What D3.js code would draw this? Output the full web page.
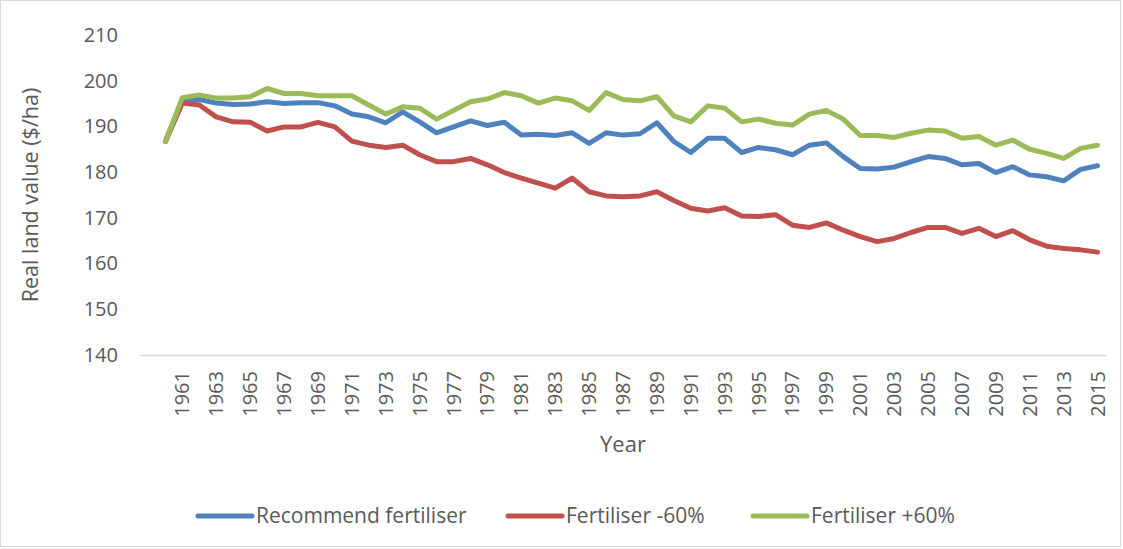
<!DOCTYPE html>
<html>
<head>
<meta charset="utf-8">
<script src="https://cdn.jsdelivr.net/npm/d3@7"></script>
<style>
  body { margin: 0; background: #fff; }
  text { font-family: "Open Sans", "Noto Sans", sans-serif; fill: #595959; }
</style>
</head>
<body>
<script>
var w = 1123;
var h = 549;

// years with data (the first category on the axis is left blank)
var years = d3.range(1960, 2016);
var yTicks = [140, 150, 160, 170, 180, 190, 200, 210];

var recommended = [186.7, 195.8, 195.9, 195.1, 194.8, 194.9, 195.4, 195.0, 195.2, 195.2,
                   194.5, 192.7, 192.1, 190.8, 193.2, 191.0, 188.6, 189.9, 191.2, 190.2,
                   190.9, 188.1, 188.3, 188.0, 188.6, 186.3, 188.6, 188.1, 188.4, 190.8,
                   186.7, 184.3, 187.4, 187.4, 184.3, 185.4, 184.9, 183.8, 185.9, 186.4,
                   183.4, 180.8, 180.7, 181.1, 182.3, 183.4, 183.0, 181.6, 181.9, 179.9,
                   181.2, 179.4, 179.0, 178.1, 180.6, 181.4];
var minus60 = [186.7, 195.1, 194.7, 192.1, 191.0, 190.9, 189.0, 189.9, 189.9, 190.9,
               189.9, 186.8, 185.9, 185.4, 185.9, 183.8, 182.3, 182.3, 183.0, 181.6,
               179.9, 178.7, 177.6, 176.5, 178.7, 175.7, 174.8, 174.6, 174.8, 175.7,
               173.8, 172.1, 171.5, 172.2, 170.4, 170.3, 170.7, 168.4, 167.9, 168.9,
               167.3, 165.9, 164.8, 165.5, 166.8, 167.9, 167.9, 166.6, 167.7, 165.9,
               167.2, 165.2, 163.8, 163.3, 163.0, 162.5];
var plus60 = [186.7, 196.3, 196.9, 196.2, 196.2, 196.5, 198.3, 197.2, 197.2, 196.7,
              196.7, 196.7, 194.7, 192.7, 194.3, 194.0, 191.6, 193.5, 195.4, 196.0,
              197.4, 196.7, 195.1, 196.2, 195.6, 193.5, 197.4, 195.9, 195.6, 196.5,
              192.3, 191.0, 194.5, 194.0, 191.0, 191.6, 190.7, 190.3, 192.7, 193.5,
              191.6, 188.0, 188.0, 187.6, 188.5, 189.2, 189.0, 187.4, 187.8, 185.9,
              187.0, 185.0, 184.1, 183.0, 185.2, 185.9];

var seriesNames = ["Recommend fertiliser", "Fertiliser -60%", "Fertiliser +60%"];
var seriesColors = ["#4f81bd", "#c0504d", "#9bbb59"];
var seriesValues = [recommended, minus60, plus60];

var margin = {top: 35, left: 140, right: 17, bottom: 194};

var svg = d3.select("body")
            .append("svg")
            .attr("width", w)
            .attr("height", h);

// chart area border
svg.append("rect")
    .attr("x", 0.5).attr("y", 0.5)
    .attr("width", w - 3).attr("height", h - 3)
    .attr("fill", "none")
    .attr("stroke", "#d9d9d9");

var x = d3.scaleBand()
    .domain([""].concat(years.map(String)))
    .range([margin.left, w - margin.right]);

var y = d3.scaleLinear()
    .domain([140, 210])
    .range([h - margin.bottom, margin.top]);

function cx(year) { return x(String(year)) + x.bandwidth() / 2; }

// y axis labels
var yAxis = svg.append("g")
    .attr("transform", "translate(" + (margin.left - 22) + ",0)")
    .call(d3.axisLeft(y).tickValues(yTicks).tickSize(0).tickPadding(0));
yAxis.select(".domain").remove();
yAxis.selectAll("text")
    .attr("font-size", "20px")
    .style("font-family", "'Open Sans', sans-serif")
    .attr("fill", "#595959");

// x axis
var xAxis = svg.append("g")
    .attr("transform", "translate(0," + y(140) + ")")
    .call(d3.axisBottom(x)
        .tickValues(years.filter(function(d) { return d % 2 === 1; }).map(String))
        .tickSize(0));
xAxis.select(".domain")
    .attr("stroke", "#d9d9d9")
    .attr("stroke-width", 1.5);
xAxis.selectAll("text")
    .attr("font-size", "20px")
    .style("font-family", "'Open Sans', sans-serif")
    .attr("fill", "#595959")
    .attr("transform", "rotate(-90)")
    .attr("text-anchor", "end")
    .attr("x", -16)
    .attr("y", 0)
    .attr("dy", "0.35em");

// axis titles
svg.append("text")
    .attr("transform", "translate(38," + ((y(140) + y(210)) / 2) + ") rotate(-90)")
    .attr("text-anchor", "middle")
    .attr("font-size", "21.5px")
    .text("Real land value ($/ha)");

svg.append("text")
    .attr("x", (margin.left + w - margin.right) / 2)
    .attr("y", 452)
    .attr("text-anchor", "middle")
    .attr("font-size", "22px")
    .text("Year");

// lines
var line = d3.line()
    .x(function(d, i) { return cx(years[i]); })
    .y(function(d) { return y(d); });

svg.selectAll("path.series")
    .data(seriesValues)
    .enter().append("path")
        .attr("class", "series")
        .attr("d", line)
        .attr("fill", "none")
        .attr("stroke", function(d, i) { return seriesColors[i]; })
        .attr("stroke-width", 5)
        .attr("stroke-linejoin", "round")
        .attr("stroke-linecap", "round");

// legend
var legendX = [198, 508, 753];
var legend = svg.selectAll("g.legend")
    .data(seriesNames)
    .enter().append("g")
        .attr("class", "legend")
        .attr("transform", function(d, i) { return "translate(" + legendX[i] + ",516)"; });
legend.append("line")
    .attr("x1", 0).attr("x2", 54)
    .attr("stroke", function(d, i) { return seriesColors[i]; })
    .attr("stroke-width", 5)
    .attr("stroke-linecap", "round");
legend.append("text")
    .attr("x", 58)
    .attr("dy", "0.35em")
    .attr("font-size", "21px")
    .text(function(d) { return d; });
</script>
</body>
</html>
